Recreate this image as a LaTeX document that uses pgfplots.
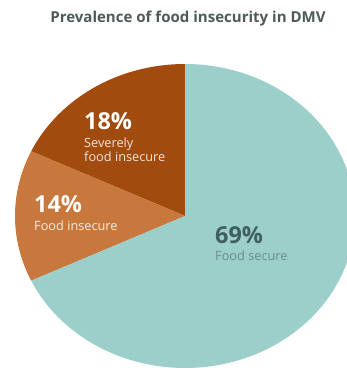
\documentclass[border=0pt]{standalone}
\usepackage{pgfplots}
\pgfplotsset{compat=1.18}
\usepackage{fontspec}
\setmainfont{Open Sans}
\definecolor{sevc}{HTML}{A24B0F}
\definecolor{insc}{HTML}{C8783C}
\definecolor{secc}{HTML}{9CCFCA}
\definecolor{titc}{HTML}{4F5A5A}
\definecolor{sect}{HTML}{3F5F60}
\definecolor{secl}{HTML}{6A8C8C}
% shares in percent (counter-clockwise from the top)
\def\sevval{18}
\def\insval{14}
\def\secval{69}
\begin{document}
\begin{tikzpicture}
\pgfmathsetmacro{\aA}{90}
\pgfmathsetmacro{\aB}{90+3.6*\sevval}
\pgfmathsetmacro{\aC}{\aB+3.6*\insval}
\pgfmathsetmacro{\aD}{450}
\begin{axis}[
  name=pie,
  scale only axis, width=347bp, height=370bp,
  xmin=0, xmax=347, ymin=0, ymax=370,
  hide axis, clip=true,
  every axis plot/.append style={draw=none, samples=90, smooth},
]
\addplot[fill=sevc, domain=\aA:\aB] ({185+170*cos(x)},{154+152*sin(x)}) -- (axis cs:185,154) -- cycle;
\addplot[fill=insc, domain=\aB:\aC] ({185+170*cos(x)},{154+152*sin(x)}) -- (axis cs:185,154) -- cycle;
\addplot[fill=secc, domain=\aC:\aD] ({185+170*cos(x)},{154+152*sin(x)}) -- (axis cs:185,154) -- cycle;

\node[anchor=base, text=titc, font=\fontsize{15.1}{17}\selectfont\bfseries] at (axis cs:188,348) {Prevalence of food insecurity in DMV};

\node[anchor=base west, inner sep=0, text=white, font=\fontsize{23.5}{26}\selectfont\bfseries] at (axis cs:84,241) {\sevval\%};
\node[anchor=base west, inner sep=0, text=white!85!sevc, font=\fontsize{12.8}{14}\selectfont] at (axis cs:84,223) {Severely};
\node[anchor=base west, inner sep=0, text=white!85!sevc, font=\fontsize{12.8}{14}\selectfont] at (axis cs:84,209) {food insecure};

\node[anchor=base west, inner sep=0, text=white, font=\fontsize{23.5}{26}\selectfont\bfseries] at (axis cs:34,158) {\insval\%};
\node[anchor=base west, inner sep=0, text=white!85!insc, font=\fontsize{12.8}{14}\selectfont] at (axis cs:34,140) {Food insecure};

\node[anchor=base west, inner sep=0, text=sect, font=\fontsize{23.5}{26}\selectfont\bfseries] at (axis cs:215,127) {\secval\%};
\node[anchor=base west, inner sep=0, text=secl, font=\fontsize{12.8}{14}\selectfont] at (axis cs:215,110) {Food secure};
\end{axis}
\pgfresetboundingbox
\path (pie.south west) rectangle (pie.north east);
\end{tikzpicture}
\end{document}
